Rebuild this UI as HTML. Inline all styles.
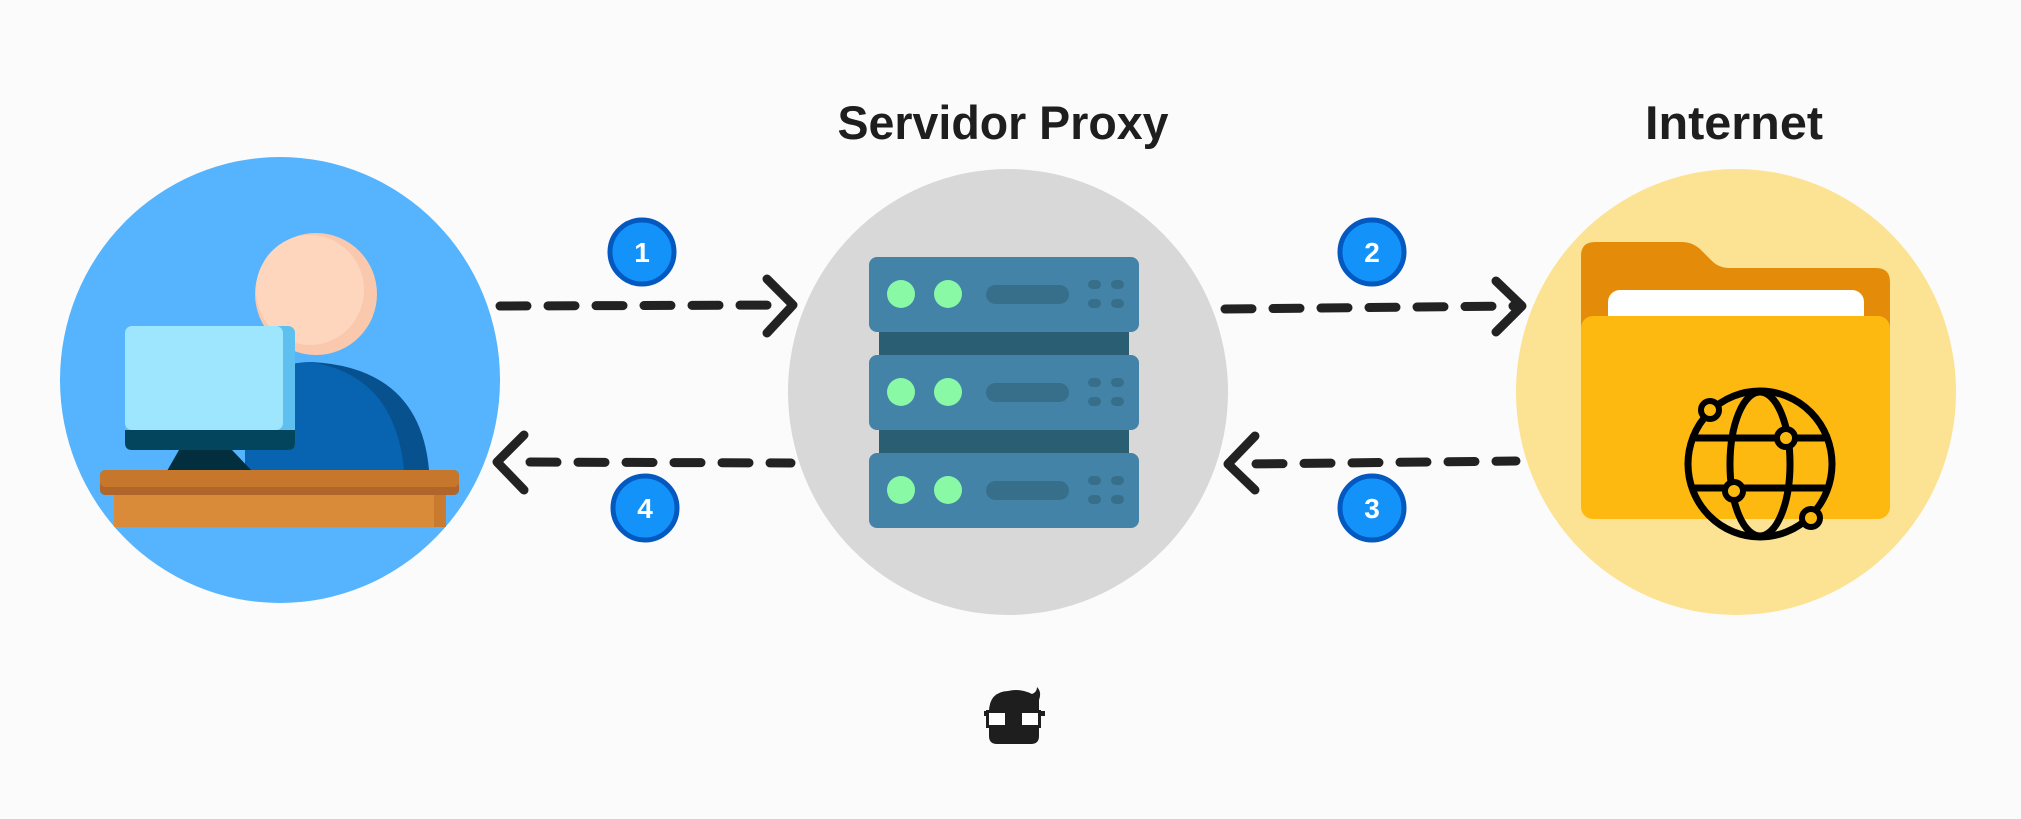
<!DOCTYPE html>
<html><head><meta charset="utf-8"><style>
html,body{margin:0;padding:0;background:#fbfbfb;}
svg{display:block;}
</style></head><body>
<svg width="2021" height="819" viewBox="0 0 2021 819" xmlns="http://www.w3.org/2000/svg">
<rect width="2021" height="819" fill="#fbfbfb"/>
<!-- titles -->
<text x="1003" y="139" font-family="Liberation Sans, sans-serif" font-weight="bold" font-size="47" fill="#1e1e1e" text-anchor="middle" textLength="331" lengthAdjust="spacingAndGlyphs">Servidor Proxy</text>
<text x="1734" y="139" font-family="Liberation Sans, sans-serif" font-weight="bold" font-size="47" fill="#1e1e1e" text-anchor="middle" textLength="178" lengthAdjust="spacingAndGlyphs">Internet</text>

<!-- circles -->
<ellipse cx="280" cy="380" rx="220" ry="223" fill="#55b4fd"/>
<ellipse cx="1008" cy="392" rx="220" ry="223" fill="#d8d8d8"/>
<ellipse cx="1736" cy="392" rx="220" ry="223" fill="#fce393"/>

<!-- person -->
<path d="M245 470 L245 420 Q260 362 312 362 Q420 368 429 470 Z" fill="#07518f"/>
<path d="M245 470 L245 420 Q260 362 310 362 Q395 375 404 470 Z" fill="#0864b0"/>
<circle cx="316" cy="294" r="61" fill="#f9c8ad"/>
<ellipse cx="310" cy="290" rx="54" ry="55" fill="#fed5bd"/>
<rect x="125" y="326" width="170" height="124" rx="7" fill="#5ec0ee"/>
<rect x="125" y="326" width="158" height="104" rx="7" fill="#9ee5fe"/>
<path d="M125 430 H295 V443 Q295 450 288 450 H132 Q125 450 125 443 Z" fill="#02455d"/>
<path d="M179 450 H232 L252 471 H167 Z" fill="#022e3d"/>
<rect x="100" y="470" width="359" height="25" rx="5" fill="#b0652a"/>
<rect x="100" y="470" width="359" height="17" rx="5" fill="#c6772c"/>
<rect x="114" y="495" width="332" height="32" fill="#d98b3a"/>
<rect x="434" y="495" width="12" height="32" fill="#c87a2f"/>

<!-- server -->
<rect x="879" y="325" width="250" height="140" fill="#2a5f73"/>
<g id="u">
<rect x="869" y="257" width="270" height="75" rx="8" fill="#4383a8"/>
<circle cx="901" cy="294" r="14" fill="#89f9a5"/>
<circle cx="948" cy="294" r="14" fill="#89f9a5"/>
<rect x="986" y="285" width="83" height="19" rx="9.5" fill="#376f8b"/>
<rect x="1088" y="280" width="13" height="9" rx="4.5" fill="#376f8b"/>
<rect x="1111" y="280" width="13" height="9" rx="4.5" fill="#376f8b"/>
<rect x="1088" y="299" width="13" height="9" rx="4.5" fill="#376f8b"/>
<rect x="1111" y="299" width="13" height="9" rx="4.5" fill="#376f8b"/>
</g>
<use href="#u" y="98"/>
<use href="#u" y="196"/>

<!-- folder -->
<path d="M1581 256 Q1581 242 1595 242 H1682 Q1692 242 1700 249 L1712 261 Q1719 268 1730 268 H1876 Q1890 268 1890 282 V500 H1581 Z" fill="#e48c0a"/>
<rect x="1608" y="290" width="256" height="40" rx="12" fill="#ffffff"/>
<rect x="1581" y="316" width="309" height="203" rx="12" fill="#feb911"/>
<!-- globe -->
<g fill="none" stroke="#000" stroke-width="7">
<ellipse cx="1760" cy="464" rx="72" ry="73"/>
<ellipse cx="1760" cy="464" rx="30" ry="72"/>
<line x1="1690" y1="438" x2="1830" y2="438"/>
<line x1="1690" y1="488" x2="1830" y2="488"/>
</g>
<g fill="#feb911" stroke="#000" stroke-width="6">
<circle cx="1710" cy="410" r="9"/>
<circle cx="1786" cy="438" r="9"/>
<circle cx="1734" cy="491" r="9"/>
<circle cx="1811" cy="518" r="9"/>
</g>

<!-- arrows -->
<g fill="none" stroke="#222" stroke-width="9" stroke-linecap="round" stroke-linejoin="round">
<line x1="500" y1="306" x2="785" y2="305" stroke-dasharray="27 21"/>
<polyline points="767,279 793,305 767,333"/>
<line x1="520" y1="462" x2="791" y2="463" stroke-dasharray="27 21" stroke-dashoffset="-10"/>
<polyline points="524,435 497,462 524,490"/>
<line x1="1225" y1="309" x2="1514" y2="306" stroke-dasharray="27 21"/>
<polyline points="1496,281 1522,306 1496,332"/>
<line x1="1250" y1="464" x2="1516" y2="461" stroke-dasharray="27 21" stroke-dashoffset="-6"/>
<polyline points="1255,436 1228,464 1255,490"/>
</g>

<!-- badges -->
<g font-family="Liberation Sans, sans-serif" font-weight="bold" font-size="28" fill="#fff" text-anchor="middle">
<circle cx="642" cy="252" r="32" fill="#1393fa" stroke="#0359c0" stroke-width="5"/>
<text x="642" y="262">1</text>
<circle cx="645" cy="508" r="32" fill="#1393fa" stroke="#0359c0" stroke-width="5"/>
<text x="645" y="518">4</text>
<circle cx="1372" cy="252" r="32" fill="#1393fa" stroke="#0359c0" stroke-width="5"/>
<text x="1372" y="262">2</text>
<circle cx="1372" cy="508" r="32" fill="#1393fa" stroke="#0359c0" stroke-width="5"/>
<text x="1372" y="518">3</text>
</g>

<!-- logo -->
<path d="M989 712 Q989 692 1008 691 Q1020 688 1032 694 Q1037 692 1037 687 Q1042 692 1039 700 L1039 736 Q1039 744 1031 744 H997 Q989 744 989 736 Z" fill="#1e1e1e"/>
<rect x="984" y="711" width="61" height="5" fill="#1e1e1e"/>
<rect x="986" y="710" width="22" height="18" fill="#1e1e1e"/>
<rect x="1019" y="710" width="22" height="18" fill="#1e1e1e"/>
<rect x="989" y="713" width="16" height="12" fill="#fff"/>
<rect x="1022" y="713" width="16" height="12" fill="#fff"/>
</svg>
</body></html>
